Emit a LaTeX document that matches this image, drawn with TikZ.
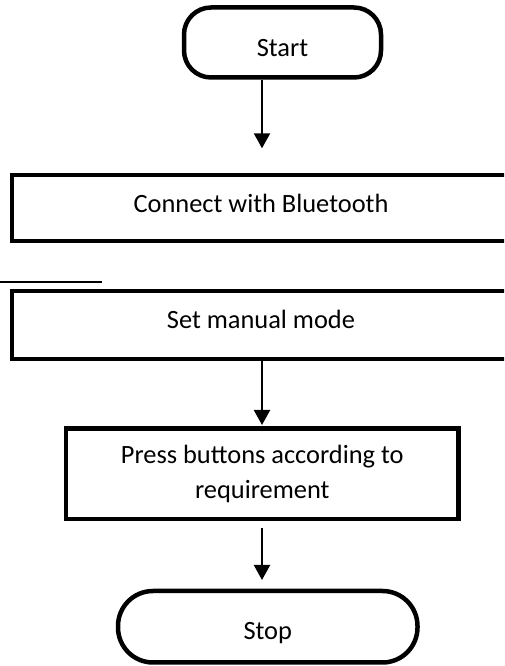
\documentclass[tikz,border=0pt]{standalone}
\usepackage{fontspec}
\setmainfont{Carlito}
\usetikzlibrary{arrows.meta}
\begin{document}
\begin{tikzpicture}[x=1pt,y=1pt,
  box/.style={draw, line width=4.5pt, inner sep=0pt, font=\fontsize{26.4}{35}\selectfont},
  term/.style={box},
  arr/.style={line width=2.2pt, -{Triangle[length=15pt,width=16pt]}},
  thin/.style={line width=1.3pt}]
\useasboundingbox (0,0) rectangle (504,666);
\clip (0,0) rectangle (504,666);
\node[term, rounded corners=27pt, minimum width=197pt, minimum height=70pt, text height=28.4pt, text depth=0pt] (start) at (282.5,623.5) {Start};
\node[box, minimum width=498pt, minimum height=66pt, text height=17.6pt, text depth=9pt] (bt) at (261,458) {Connect with Bluetooth};
\node[box, minimum width=498pt, minimum height=68pt, text height=17pt, text depth=9pt] (mm) at (261,341) {Set manual mode};
\node[box, minimum width=392.5pt, minimum height=90.5pt, align=center] (pb) at (262.25,192.25) {Press buttons according to\\requirement};
\node[term, rounded corners=35pt, minimum width=299.5pt, minimum height=71.5pt, text height=25.1pt, text depth=0pt] (stop) at (267.75,39.25) {Stop};
\coordinate (t1) at (262,517.7);
\draw[arr] (start.south -| t1) -- (t1);
\coordinate (t2) at (262,241);
\draw[arr] (mm.south -| t2) -- (t2);
\coordinate (s3) at (262,138);
\coordinate (t3) at (262,86);
\draw[arr] (s3) -- (t3);
\coordinate (h1) at (0,384);
\coordinate (h2) at (102,384);
\draw[thin] (h1) -- (h2);
\end{tikzpicture}
\end{document}
